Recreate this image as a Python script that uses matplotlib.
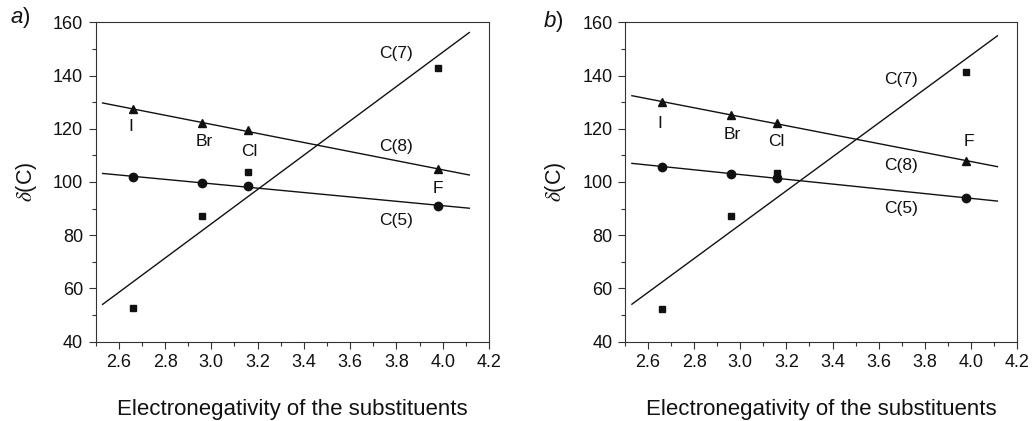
import numpy as np
import matplotlib
matplotlib.use("Agg")
import matplotlib.pyplot as plt
from matplotlib.ticker import MultipleLocator

plt.rcParams['font.family'] = ['Liberation Sans', 'DejaVu Sans']
plt.rcParams['mathtext.fontset'] = 'custom'
plt.rcParams['mathtext.it'] = 'Liberation Sans:italic'
plt.rcParams['mathtext.rm'] = 'Liberation Sans'

# Data
electronegativity = [2.66, 2.96, 3.16, 3.98]
substituents = ["I", "Br", "Cl", "F"]

# Panel a
a_C8 = [127.4, 122.0, 119.5, 104.8]
a_C5 = [101.9, 99.6, 98.5, 91.1]
a_C7 = [52.5, 87.3, 103.6, 142.8]

# Panel b
b_C8 = [130.1, 125.0, 122.3, 107.9]
b_C5 = [105.8, 103.1, 101.5, 94.0]
b_C7 = [52.1, 87.2, 103.5, 141.5]

fit_range = [2.53, 4.115]
xtick_vals = [2.6, 2.8, 3.0, 3.2, 3.4, 3.6, 3.8, 4.0, 4.2]

fig = plt.figure(figsize=(10.32, 4.21), dpi=100)
axA = fig.add_axes([0.0927, 0.1884, 0.3811, 0.7586])
axB = fig.add_axes([0.6056, 0.1884, 0.3799, 0.7586])

panels = [
    (axA, a_C8, a_C5, a_C7,
     {"C(7)": (3.797, 148.3), "C(8)": (3.797, 113.3), "C(5)": (3.797, 85.5)},
     {"I": (2.651, 120.8), "Br": (2.968, 115.2), "Cl": (3.163, 111.4), "F": (3.981, 97.6)}),
    (axB, b_C8, b_C5, b_C7,
     {"C(7)": (3.697, 138.6), "C(8)": (3.697, 106.1), "C(5)": (3.697, 90.1)},
     {"I": (2.652, 121.8), "Br": (2.964, 117.7), "Cl": (3.155, 115.2), "F": (3.993, 115.2)}),
]

col = "#111111"
for ax, c8, c5, c7, serlabels, sublabels in panels:
    x = np.array(electronegativity)
    xf = np.array(fit_range)
    for ys, mk, ms in [(c8, "^", 5.5), (c5, "o", 6), (c7, "s", 5)]:
        ys = np.array(ys)
        p = np.polyfit(x, ys, 1)
        ax.plot(xf, np.polyval(p, xf), color=col, lw=1.0)
        ax.plot(x, ys, ls="none", marker=mk, ms=ms, color=col, mec=col)
    for t, (tx, ty) in serlabels.items():
        ax.text(tx, ty, t, ha="center", va="center", fontsize=12.5, color=col)
    for t, (tx, ty) in sublabels.items():
        ax.text(tx, ty, t, ha="center", va="center", fontsize=12.5, color=col)

    ax.set_xlim(2.5, 4.2)
    ax.set_ylim(40, 160)
    ax.set_xticks(xtick_vals)
    ax.set_xticklabels([f"{v:.1f}" for v in xtick_vals])
    ax.xaxis.set_minor_locator(MultipleLocator(0.1))
    ax.yaxis.set_major_locator(MultipleLocator(20))
    ax.yaxis.set_minor_locator(MultipleLocator(10))
    ax.tick_params(which="major", direction="out", length=5, width=0.8,
                   labelsize=13, colors="#333333", labelcolor=col, pad=4)
    ax.tick_params(which="minor", direction="out", length=3, width=0.8, colors="#333333")
    for s in ax.spines.values():
        s.set_linewidth(0.8)
        s.set_color("#333333")
    ax.set_xlabel("Electronegativity of the substituents", fontsize=16,
                  color=col, labelpad=20)
    ax.set_ylabel(r"$\delta$(C)", fontsize=15.5, color=col, labelpad=10,
                  math_fontfamily='stix')

fig.text(20 / 1032, 1 - 17 / 421, "$a$)", fontsize=16, ha="center", va="center", color=col)
fig.text(553 / 1032, 1 - 22 / 421, "$b$)", fontsize=16, ha="center", va="center", color=col)

fig.savefig("out.png", dpi=100)
